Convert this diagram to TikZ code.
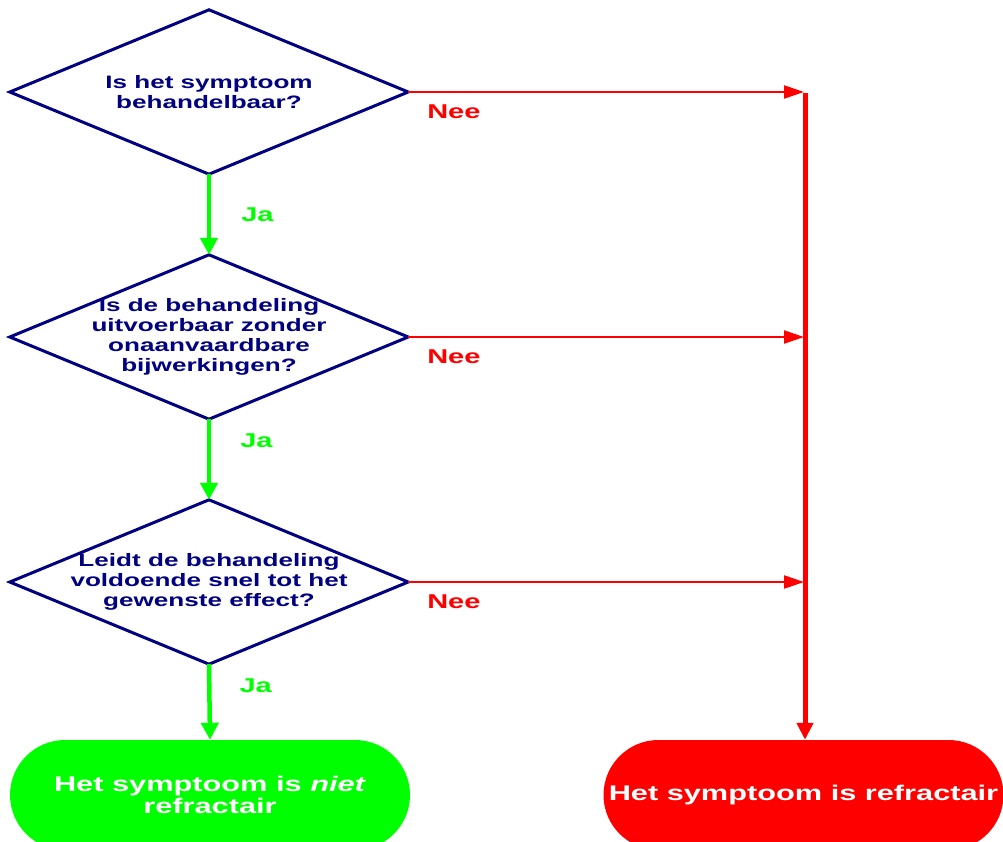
\documentclass[tikz,border=0pt]{standalone}
\usepackage{fontspec}
\setmainfont{Liberation Sans}[FakeStretch=1.45]
\usetikzlibrary{positioning}
\usetikzlibrary{arrows.meta}
\definecolor{vraagblauw}{RGB}{0,0,128}
\definecolor{jagroen}{RGB}{0,255,0}
\definecolor{neerood}{RGB}{255,0,0}

\begin{document}
\begin{tikzpicture}[x=1pt,y=-1pt]
\tikzstyle{vraag}=[minimum width=398pt,minimum height=164pt,inner sep=0pt,align=center,text=vraagblauw,font=\bfseries\fontsize{18}{20}\selectfont]
\tikzstyle{ruit}=[draw=vraagblauw,line width=3pt,line join=miter]
\tikzstyle{eind}=[minimum width=400pt,minimum height=110pt,rounded corners=55pt,inner sep=0pt,align=center,text=white,font=\bfseries\fontsize{21.2}{22}\selectfont]
\tikzstyle{ja}=[draw=jagroen,line width=4.5pt,-{Triangle[length=17pt,width=17pt]}]
\tikzstyle{nee}=[draw=neerood,line width=2.2pt,shorten >=1pt,-{Triangle[length=20pt,width=13pt]}]
\tikzstyle{neestam}=[draw=neerood,line width=5pt,-{Triangle[length=17pt,width=16pt]}]
\tikzstyle{jatekst}=[text=jagroen,inner sep=0pt,font=\bfseries\fontsize{20}{22}\selectfont]
\tikzstyle{neetekst}=[text=neerood,inner sep=0pt,anchor=north west,xshift=18pt,yshift=-12pt,font=\bfseries\fontsize{20}{22}\selectfont]
\useasboundingbox (0,0) rectangle (1003,842);
%%%%%%%%%%%%%%%%%%%%%%%%%%%%%%%%%%%%%%%%%%%%%%%%%%%%%%%%%%%%%%%%%%%%%%%%%%%%%%%%%%%%%%%%
%% Draw questions
%%%%%%%%%%%%%%%%%%%%%%%%%%%%%%%%%%%%%%%%%%%%%%%%%%%%%%%%%%%%%%%%%%%%%%%%%%%%%%%%%%%%%%%%
\node[vraag] (q1) at (209,92) {Is het symptoom\\behandelbaar?};
\draw[ruit] (q1.north) -- (q1.east) -- (q1.south) -- (q1.west) -- cycle;

\node[vraag] (q2) at (209,337) {Is de behandeling\\uitvoerbaar zonder\\onaanvaardbare\\bijwerkingen?};
\draw[ruit] (q2.north) -- (q2.east) -- (q2.south) -- (q2.west) -- cycle;

\node[vraag] (q3) at (209,582) {Leidt de behandeling\\voldoende snel tot het\\gewenste effect?};
\draw[ruit] (q3.north) -- (q3.east) -- (q3.south) -- (q3.west) -- cycle;

% end states
\node[eind,fill=jagroen] (niet) at (210,795) {Het symptoom is \textit{niet}\\refractair};
\node[eind,fill=neerood] (refr) at (803.5,795) {Het symptoom is refractair};
\coordinate (stam) at (805,93);
%%%%%%%%%%%%%%%%%%%%%%%%%%%%%%%%%%%%%%%%%%%%%%%%%%%%%%%%%%%%%%%%%%%%%%%%%%%%%%%%%%%%%%%%

%%%%%%%%%%%%%%%%%%%%%%%%%%%%%%%%%%%%%%%%%%%%%%%%%%%%%%%%%%%%%%%%%%%%%%%%%%%%%%%%%%%%%%%%
%%% Draw connections
%%%%%%%%%%%%%%%%%%%%%%%%%%%%%%%%%%%%%%%%%%%%%%%%%%%%%%%%%%%%%%%%%%%%%%%%%%%%%%%%%%%%%%%%
\draw[ja] (q1.south) -- node[jatekst,pos=0.5,anchor=west,xshift=30pt]{Ja} (q2.north);
\draw[ja] (q2.south) -- node[jatekst,pos=0.27,anchor=west,xshift=29pt]{Ja} (q3.north);
\draw[ja] (q3.south) -- node[jatekst,pos=0.28,anchor=west,xshift=28pt]{Ja} (niet.north);

\draw[nee] (q1.east) -- (q1.east -| stam) node[neetekst] at (q1.east) {Nee};
\draw[nee] (q2.east) -- (q2.east -| stam) node[neetekst] at (q2.east) {Nee};
\draw[nee] (q3.east) -- (q3.east -| stam) node[neetekst] at (q3.east) {Nee};
\draw[neestam] (stam) -- (stam |- refr.north);
%%%%%%%%%%%%%%%%%%%%%%%%%%%%%%%%%%%%%%%%%%%%%%%%%%%%%%%%%%%%%%%%%%%%%%%%%%%%%%%%%%%%%%%%

\end{tikzpicture}
\end{document}
